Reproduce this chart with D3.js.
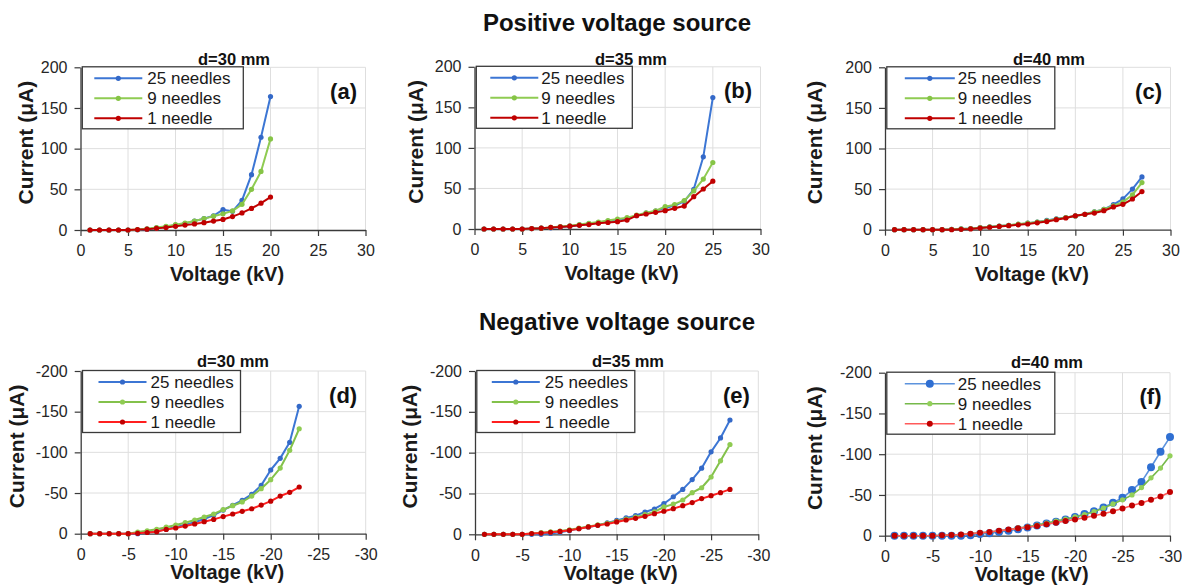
<!DOCTYPE html>
<html>
<head>
<meta charset="utf-8">
<script src="https://cdn.jsdelivr.net/npm/d3@7/dist/d3.min.js"></script>
<style>
  html, body { margin: 0; padding: 0; background: #fff; }
  svg { display: block; font-family: "Liberation Sans", Arial, Helvetica, sans-serif; }
</style>
</head>
<body>
<script>
// ---- Data: corona discharge current vs. applied voltage ----
const seriesNames = ["25 needles", "9 needles", "1 needle"];

// Positive voltage source
const voltsPos30 = [1,2,3,4,5,6,7,8,9,10,11,12,13,14,15,16,17,18,19,20];
const pos30n25 = [0,0,0,0,0,0.3,1,2.5,4,6,8,11,14,17.5,25,23,36.5,68,114,164];
const pos30n9  = [0,0,0,0,0,0.5,1.5,3,4.5,6.5,8.5,11,14,17,20,23.5,31.5,50,72,112];
const pos30n1  = [0,0,0,0,0,0.5,1,2,3,4.5,6,7.5,9,11,13,16.5,21,26.5,33,40.5];

const voltsPos35 = [1,2,3,4,5,6,7,8,9,10,11,12,13,14,15,16,17,18,19,20,21,22,23,24,25];
const pos35n25 = [0,0,0,0,0,0.5,1,1.5,2.5,3.5,5,6.5,8,9.5,11,13,16.5,19.5,22,26,29,34,49,89,162];
const pos35n9  = [0,0,0,0,0,0.5,1,2,3,4,5.5,7,8.5,10.5,12.3,14,17,20,22.5,27.5,30,35,47,61.5,82];
const pos35n1  = [0,0,0,0,0,0.5,1,2,2.5,3.5,4.5,5.5,7,8,9,11,16.4,18.5,20.5,22.6,25.5,28.3,39.8,49.3,59];

const voltsPos40 = [1,2,3,4,5,6,7,8,9,10,11,12,13,14,15,16,17,18,19,20,21,22,23,24,25,26,27];
const pos40n25 = [0,0,0,0,0,0,0.5,1,1.5,2.5,3.5,4.5,5.5,6.5,8,9.5,11.5,13.5,15,17,19,22,25,31,38,50,65];
const pos40n9  = [0,0,0,0,0,0,0.5,1,1.5,2.5,3.5,4.5,5.5,7,8,9.5,11,13,15,17,19,22,25,29.5,34,43,58];
const pos40n1  = [0,0,0,0,0,0,0,0.5,1,2,3,4,5,6,7,8.5,10,12.3,14.4,17.2,18.9,20.5,23.4,28,31.2,37.8,47];

// Negative voltage source
const voltsNeg30 = [-1,-2,-3,-4,-5,-6,-7,-8,-9,-10,-11,-12,-13,-14,-15,-16,-17,-18,-19,-20,-21,-22,-23];
const neg30n25 = [0,0,0,0,0,0,-1.5,-3,-5.5,-8,-11,-14,-18,-23,-29,-35,-41,-48.4,-59.4,-78.3,-92.6,-112.3,-156.6];
const neg30n9  = [0,0,0,0,0,-2,-3.5,-5.5,-8,-10.6,-13.5,-16.8,-20.5,-24.2,-29.5,-34.4,-39,-46.3,-55.3,-66.4,-80.7,-102.5,-129];
const neg30n1  = [0,0,0,0,0,-0.5,-1.5,-2.5,-5.3,-7,-9.4,-12,-14.8,-17.6,-21,-24.2,-27.5,-30.7,-35.2,-40,-46.3,-50.8,-57.4];

const voltsNeg35 = [-1,-2,-3,-4,-5,-6,-7,-8,-9,-10,-11,-12,-13,-14,-15,-16,-17,-18,-19,-20,-21,-22,-23,-24,-25,-26,-27];
const neg35n25 = [0,0,0,0,0,0,0,-1,-2.5,-4.5,-7,-9,-11,-14,-17,-20,-22.9,-27.3,-31,-37.5,-46,-55,-67,-81,-101,-118,-140];
const neg35n9  = [0,0,0,0,0,-1,-2,-3,-4,-5.5,-7.5,-9.5,-11.5,-13.5,-16,-18.5,-21,-24,-27.5,-33.5,-37,-42,-51,-57,-70.2,-90,-110];
const neg35n1  = [0,0,0,0,0,-1,-1.5,-2.5,-3.5,-4.9,-6.9,-9,-11,-12.6,-15.1,-17.5,-19.6,-22,-25.3,-28.2,-31.4,-35,-38.8,-43.7,-47.3,-51,-55];

const voltsNeg40 = [-1,-2,-3,-4,-5,-6,-7,-8,-9,-10,-11,-12,-13,-14,-15,-16,-17,-18,-19,-20,-21,-22,-23,-24,-25,-26,-27,-28,-29,-30];
const neg40n25 = [0,0,0,0,0,0,0,0,-0.5,-2,-3,-4.5,-6,-8,-10,-12.5,-15,-17,-20,-23,-26.5,-30,-34.5,-40.5,-46.5,-56,-66,-84,-103,-121];
const neg40n9  = [0,0,0,0,0,-0.5,-1,-1.5,-2.5,-3.5,-4.5,-6,-7.5,-9.5,-11,-13,-15.5,-18,-20.5,-23,-26,-29.5,-34,-39,-44,-50,-59,-71,-83,-98];
const neg40n1  = [0,0,0,0,0,-0.5,-1,-1.5,-2.5,-3.5,-4.5,-6,-7.5,-9,-10.5,-12,-14,-16,-18,-20,-22,-24.5,-27,-30,-33.5,-37,-40,-44,-48,-53.5];

// Axis ticks
const xTicksPos = [0,5,10,15,20,25,30];
const yTicksPos = [0,50,100,150,200];
const xTicksNeg = [0,-5,-10,-15,-20,-25,-30];
const yTicksNeg = [0,-50,-100,-150,-200];

const rowTitles = ["Positive voltage source", "Negative voltage source"];

const panels = [
  { tag: "(a)", dist: "d=30 mm", volts: voltsPos30, series: [pos30n25, pos30n9, pos30n1], xTicks: xTicksPos, yTicks: yTicksPos },
  { tag: "(b)", dist: "d=35 mm", volts: voltsPos35, series: [pos35n25, pos35n9, pos35n1], xTicks: xTicksPos, yTicks: yTicksPos },
  { tag: "(c)", dist: "d=40 mm", volts: voltsPos40, series: [pos40n25, pos40n9, pos40n1], xTicks: xTicksPos, yTicks: yTicksPos },
  { tag: "(d)", dist: "d=30 mm", volts: voltsNeg30, series: [neg30n25, neg30n9, neg30n1], xTicks: xTicksNeg, yTicks: yTicksNeg },
  { tag: "(e)", dist: "d=35 mm", volts: voltsNeg35, series: [neg35n25, neg35n9, neg35n1], xTicks: xTicksNeg, yTicks: yTicksNeg },
  { tag: "(f)", dist: "d=40 mm", volts: voltsNeg40, series: [neg40n25, neg40n9, neg40n1], xTicks: xTicksNeg, yTicks: yTicksNeg }
];

// ---- Layout & styling ----
const W = 1182, H = 585;
const frames = [
  { l: 80.5,  r: 365.5,  t: 67.3,  b: 230,   yTitleX: 26,  subX: 234,  subY: 65,  xTitleY: 281, legW: 161, line: [12, 60], text: 65 },
  { l: 474.5, r: 760.5,  t: 66.8,  b: 229,   yTitleX: 416, subX: 631,  subY: 64.5,xTitleY: 280, legW: 156, line: [14, 62], text: 65 },
  { l: 885,   r: 1170.5, t: 67.3,  b: 229.7, yTitleX: 815, subX: 1049, subY: 65,  xTitleY: 281, legW: 168, line: [18, 68], text: 71 },
  { l: 80.7,  r: 365.7,  t: 371,   b: 533.7, yTitleX: 17,  subX: 233,  subY: 366.5,xTitleY: 579, legW: 158, line: [16, 64], text: 68 },
  { l: 475,   r: 758.3,  t: 371,   b: 534.3, yTitleX: 410, subX: 628,  subY: 366.5,xTitleY: 580, legW: 158, line: [15, 63], text: 68 },
  { l: 885,   r: 1170,   t: 372.7, b: 535.7, yTitleX: 815, subX: 1047, subY: 367.5,xTitleY: 581, legW: 168, line: [18, 68], text: 71 }
];

const styleA = [
  { line: "#3c76d4", dot: "#3469c8", r: 2.6, w: 2 },
  { line: "#8fcb52", dot: "#86c446", r: 2.6, w: 2 },
  { line: "#c00000", dot: "#c00000", r: 2.6, w: 2 }
];
const styleD = [
  { line: "#3c76d4", dot: "#3469c8", r: 2.6, w: 2 },
  { line: "#83c14b", dot: "#8fcb52", r: 2.6, w: 2 },
  { line: "#ff1f1f", dot: "#c00000", r: 2.6, w: 2 }
];
const styleF = [
  { line: "#5d93dd", dot: "#2f6fd2", r: 4,   w: 1.6 },
  { line: "#76b94a", dot: "#93d05a", r: 2.6, w: 1.6 },
  { line: "#ff5a5a", dot: "#c00000", r: 3,   w: 1.6 }
];
const panelStyles = [styleA, styleA, styleA, styleD, styleD, styleF];

const svg = d3.select("body").append("svg")
  .attr("width", W).attr("height", H)
  .attr("viewBox", `0 0 ${W} ${H}`);

svg.append("rect").attr("width", W).attr("height", H).attr("fill", "#fff");

// Row headings
svg.append("text").attr("x", 617).attr("y", 31)
  .attr("text-anchor", "middle").attr("font-size", 24).attr("font-weight", "bold")
  .attr("fill", "#111").text(rowTitles[0]);
svg.append("text").attr("x", 617).attr("y", 330)
  .attr("text-anchor", "middle").attr("font-size", 24).attr("font-weight", "bold")
  .attr("fill", "#111").text(rowTitles[1]);

panels.forEach((p, i) => {
  const f = frames[i];
  const st = panelStyles[i];
  const xMax = p.xTicks[p.xTicks.length - 1];
  const yMax = p.yTicks[p.yTicks.length - 1];

  const x = d3.scaleLinear().domain([0, xMax]).range([f.l, f.r]);
  const y = d3.scaleLinear().domain([0, yMax]).range([f.b, f.t]);

  const g = svg.append("g");

  // gridlines
  g.append("g").selectAll("line.vg").data(p.xTicks.slice(1)).join("line")
    .attr("x1", d => x(d)).attr("x2", d => x(d))
    .attr("y1", f.t).attr("y2", f.b)
    .attr("stroke", "#dedede").attr("stroke-width", 1);
  g.append("g").selectAll("line.hg").data(p.yTicks.slice(1)).join("line")
    .attr("x1", f.l).attr("x2", f.r)
    .attr("y1", d => y(d)).attr("y2", d => y(d))
    .attr("stroke", "#dedede").attr("stroke-width", 1);

  // axes
  const xAxis = d3.axisBottom(x).tickValues(p.xTicks).tickFormat(d => String(d))
    .tickSizeInner(6).tickSizeOuter(0).tickPadding(9);
  const yAxis = d3.axisLeft(y).tickValues(p.yTicks).tickFormat(d => String(d))
    .tickSizeInner(6).tickSizeOuter(0).tickPadding(7);

  const gx = g.append("g").attr("transform", `translate(0,${f.b})`).call(xAxis);
  const gy = g.append("g").attr("transform", `translate(${f.l},0)`).call(yAxis);
  [gx, gy].forEach(a => {
    a.select(".domain").attr("stroke", "#3a3a3a").attr("stroke-width", 1.3);
    a.selectAll(".tick line").attr("stroke", "#3a3a3a").attr("stroke-width", 1.2);
    a.selectAll(".tick text").attr("font-size", 16).attr("fill", "#262626")
      .attr("font-family", "'Liberation Sans', Arial, sans-serif");
  });

  // axis titles
  g.append("text").attr("x", (f.l + f.r) / 2 + 4).attr("y", f.xTitleY)
    .attr("text-anchor", "middle").attr("font-size", 20).attr("font-weight", "bold")
    .attr("fill", "#1a1a1a").text("Voltage (kV)");
  g.append("text")
    .attr("transform", `translate(${f.yTitleX},${(f.t + f.b) / 2 - 6}) rotate(-90)`)
    .attr("dy", "0.35em")
    .attr("text-anchor", "middle").attr("font-size", 21).attr("font-weight", "bold")
    .attr("fill", "#1a1a1a").text("Current (μA)");

  // panel subtitle (electrode gap)
  g.append("text").attr("x", f.subX).attr("y", f.subY)
    .attr("text-anchor", "middle").attr("font-size", 16.5).attr("font-weight", "bold")
    .attr("fill", "#111").text(p.dist);

  // series: draw the lowest-current curve last so it sits on top, as plotted
  const line = d3.line().x(d => x(d[0])).y(d => y(d[1]));
  p.series.forEach((vals, k) => {
    const pts = p.volts.map((v, j) => [v, vals[j]]);
    g.append("path").datum(pts)
      .attr("fill", "none").attr("stroke", st[k].line)
      .attr("stroke-width", st[k].w).attr("stroke-linejoin", "round")
      .attr("d", line);
    g.append("g").selectAll("circle").data(pts).join("circle")
      .attr("cx", d => x(d[0])).attr("cy", d => y(d[1]))
      .attr("r", st[k].r).attr("fill", st[k].dot);
  });

  // legend
  const lg = g.append("g").attr("transform", `translate(${f.l + 1.8},${f.t - 0.5})`);
  lg.append("rect").attr("width", f.legW).attr("height", 62)
    .attr("fill", "#fff").attr("stroke", "#3a3a3a").attr("stroke-width", 1.3);
  seriesNames.forEach((name, k) => {
    const cy = 11.5 + k * 20;
    lg.append("line").attr("x1", f.line[0]).attr("x2", f.line[1])
      .attr("y1", cy).attr("y2", cy)
      .attr("stroke", st[k].line).attr("stroke-width", st[k].w);
    lg.append("circle").attr("cx", (f.line[0] + f.line[1]) / 2).attr("cy", cy)
      .attr("r", st[k].r).attr("fill", st[k].dot);
    lg.append("text").attr("x", f.text).attr("y", cy).attr("dy", "0.35em")
      .attr("font-size", 17).attr("fill", "#1a1a1a").text(name);
  });

  // panel letter
  g.append("text").attr("x", f.r - 8.5).attr("y", f.t + 31.5)
    .attr("text-anchor", "end").attr("font-size", 22).attr("font-weight", "bold")
    .attr("fill", "#111").text(p.tag);
});
</script>
</body>
</html>
